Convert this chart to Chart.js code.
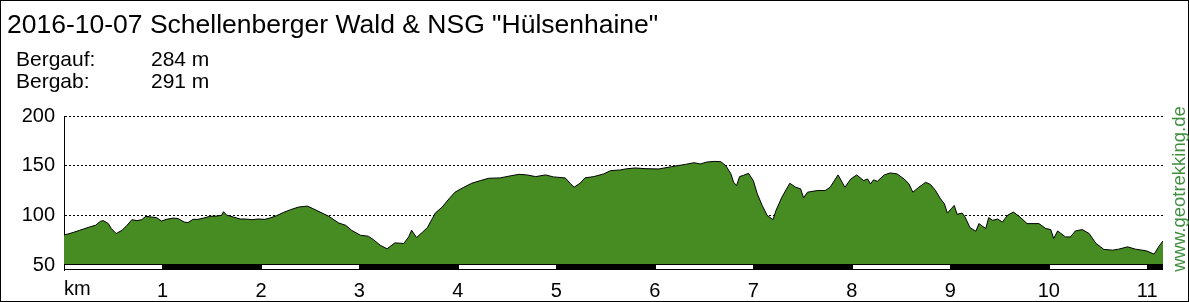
<!DOCTYPE html>
<html><head><meta charset="utf-8">
<style>html,body{margin:0;padding:0;background:#fff;overflow:hidden}canvas{display:block}</style>
<script src="https://cdn.jsdelivr.net/npm/chart.js@4.4.1/dist/chart.umd.min.js"></script>
</head><body>
<canvas id="c" width="1189" height="302"></canvas>
<script>
const titleText = '2016-10-07 Schellenberger Wald & NSG "Hülsenhaine"';
const statLabels = ['Bergauf:', 'Bergab:'];
const statValues = ['284 m', '291 m'];
const watermark = 'www.geotrekking.de';
const yTicks = [50, 100, 150, 200];
const kmTicks = [0, 1, 2, 3, 4, 5, 6, 7, 8, 9, 10, 11];
const kmUnit = 'km';

const distanceKm = [
  0.00, 0.04, 0.10, 0.16, 0.26, 0.32, 0.37, 0.40, 0.45, 0.48, 0.53, 0.59, 0.64, 0.69, 0.74, 0.79, 0.83, 0.89, 0.94, 0.99,
  1.04, 1.11, 1.16, 1.22, 1.26, 1.31, 1.36, 1.42, 1.48, 1.55, 1.60, 1.62, 1.65, 1.72, 1.79, 1.84, 1.91, 1.97,
  2.04, 2.09, 2.16, 2.23, 2.30, 2.38, 2.47, 2.53, 2.60, 2.69, 2.79, 2.86, 2.92,
  3.01, 3.09, 3.14, 3.21, 3.28, 3.36, 3.45, 3.50, 3.53, 3.58, 3.64, 3.69, 3.74, 3.77, 3.84, 3.91, 3.97,
  4.06, 4.14, 4.23, 4.31, 4.43, 4.53, 4.62, 4.70, 4.79, 4.89, 4.97,
  5.09, 5.14, 5.18, 5.24, 5.29, 5.38, 5.48, 5.55, 5.65, 5.70, 5.80, 5.90,
  6.04, 6.17, 6.31, 6.40, 6.46, 6.53, 6.60, 6.67, 6.72, 6.77, 6.80, 6.83, 6.86, 6.90, 6.95,
  7.00, 7.04, 7.09, 7.14, 7.20, 7.23, 7.29, 7.37, 7.43, 7.48, 7.51, 7.55, 7.65, 7.73, 7.78, 7.86, 7.93, 7.99,
  8.05, 8.12, 8.16, 8.19, 8.22, 8.26, 8.33, 8.39, 8.46, 8.53, 8.58, 8.62, 8.68, 8.75, 8.80, 8.85, 8.90, 8.94, 8.97,
  9.01, 9.04, 9.07, 9.12, 9.15, 9.20, 9.26, 9.29, 9.36, 9.39, 9.43, 9.48, 9.53, 9.58, 9.64, 9.70, 9.78, 9.90, 9.97,
  10.02, 10.05, 10.09, 10.17, 10.22, 10.27, 10.34, 10.41, 10.48, 10.56, 10.65, 10.71, 10.80, 10.88, 10.99,
  11.07, 11.12, 11.16
];
const elevation = [
  80.3, 81.2, 83, 85, 88.3, 90, 94, 94.7, 91.7, 86.7, 81.7, 85, 90, 95.7, 94.7, 95.7, 99, 98.3, 97.7, 94.3,
  96, 97.3, 96.7, 93.3, 92.7, 96, 96, 97.3, 99, 99.3, 100, 103.7, 100.3, 98.3, 96.3, 96.3, 95.7, 96.3,
  96, 97.3, 99.7, 103, 105.7, 108.3, 109.3, 106.7, 103.3, 99, 92.3, 90, 85,
  80, 79, 75.7, 70, 66.3, 72.3, 71.7, 78.3, 85, 77.7, 83, 87.7, 96.7, 102.3, 108.3, 116.7, 123.3,
  128.3, 132.3, 135, 137.3, 137.7, 139.7, 141.3, 140.7, 139, 140.7, 138.7,
  137.7, 132.3, 128.3, 132.3, 137.7, 139, 141.7, 145, 145.7, 146.7, 147.7, 147,
  146.7, 149, 151.3, 153, 151.7, 153.7, 154.3, 154, 150, 142.3, 133.3, 130, 139, 140.3, 142.3,
  135, 121.7, 110, 100, 95.7, 105, 118.3, 132.3, 128.3, 126.7, 117.7, 123.3, 125, 125, 128.3, 140.7, 128.3, 136.7,
  140.7, 135, 136.7, 131.7, 135.7, 134.3, 140.7, 142.7, 141.7, 136.7, 131.7, 123.3, 128.3, 133.3, 131, 125, 116.7, 111.7, 102.3,
  106.7, 110, 101, 102.3, 98.3, 87.7, 84, 91.7, 86.7, 97.7, 95, 96.3, 93.3, 100, 103.3, 99, 91.7, 91.7, 86.7,
  85.7, 76.7, 84.3, 78.3, 78.3, 84.3, 85.7, 81.7, 71.7, 65.7, 65, 66, 68.3, 66, 64.3,
  61, 69, 74.3
];

const FONT = '"Liberation Sans", Arial, sans-serif';
Chart.defaults.font.family = FONT;

const decor = {
  id: 'decor',
  beforeDraw(chart) {
    const c = chart.ctx;
    c.save();
    c.fillStyle = '#fff';
    c.fillRect(0, 0, chart.width, chart.height);
    c.restore();
  },
  afterDatasetsDraw(chart) {
    const c = chart.ctx;
    const xs = chart.scales.x, ys = chart.scales.y;
    const top = Math.round(ys.getPixelForValue(50)) - 1;
    const bottom = chart.chartArea.bottom;
    const xEnd = xs.getPixelForValue(xs.max);
    const xStart = xs.getPixelForValue(0);
    c.save();
    c.fillStyle = '#000';
    c.fillRect(xStart, top, xEnd - xStart, bottom - top);
    c.fillStyle = '#fff';
    for (let k = 0; k < xs.max; k += 2) {
      const a = Math.round(xs.getPixelForValue(k)) + 1;
      const b = Math.round(xs.getPixelForValue(Math.min(k + 1, xs.max)));
      c.fillRect(a, top + 1, b - a, bottom - top - 2);
    }
    c.restore();
  },
  afterDraw(chart) {
    const c = chart.ctx;
    const xs = chart.scales.x;
    c.save();
    c.fillStyle = '#000';
    c.strokeStyle = '#000';
    c.lineWidth = 1;
    c.strokeRect(0.5, 0.5, chart.width - 1, chart.height - 1);
    c.textBaseline = 'alphabetic';
    c.textAlign = 'left';
    c.font = '26.5px ' + FONT;
    c.fillText(titleText, 7, 33);
    c.font = '21px ' + FONT;
    statLabels.forEach((l, i) => {
      c.fillText(l, 16, 66 + i * 21.6);
      c.fillText(statValues[i], 151, 66 + i * 21.6);
    });
    c.font = '20px ' + FONT;
    c.fillText(kmUnit, xs.getPixelForValue(0), 295);
    c.translate(1185, 189);
    c.rotate(-Math.PI / 2);
    c.textAlign = 'center';
    c.font = '18.5px ' + FONT;
    c.fillStyle = '#3f8f3f';
    c.fillText(watermark, 0, 0);
    c.restore();
  }
};

new Chart(document.getElementById('c').getContext('2d'), {
  type: 'line',
  data: {
    datasets: [{
      data: distanceKm.map((x, i) => ({ x: x, y: elevation[i] })),
      fill: 'start',
      backgroundColor: '#468c23',
      borderColor: '#000',
      borderWidth: 1,
      pointRadius: 0,
      tension: 0
    }]
  },
  options: {
    responsive: false,
    animation: false,
    devicePixelRatio: 1,
    layout: { padding: { top: 116, left: 0, right: 26, bottom: 0 } },
    plugins: { legend: { display: false }, tooltip: { enabled: false } },
    scales: {
      x: {
        type: 'linear', min: 0, max: 11.16,
        afterBuildTicks: s => { s.ticks = kmTicks.map(v => ({ value: v })); },
        afterFit: s => { s.height = 32; },
        grid: { display: false, drawTicks: false },
        border: { display: false },
        ticks: {
          callback: v => (v === 0 ? '' : String(v)),
          font: { size: 20 }, color: '#000', padding: 9,
          maxRotation: 0, autoSkip: false
        }
      },
      y: {
        min: 45, max: 200,
        afterBuildTicks: s => { s.ticks = yTicks.map(v => ({ value: v })); },
        afterFit: s => { s.width = 64; },
        grid: {
          color: ctx => (ctx.tick && ctx.tick.value === 50 ? 'rgba(0,0,0,0)' : '#000'),
          drawTicks: false, lineWidth: 1
        },
        border: { display: true, color: '#000', width: 1, dash: [2, 2] },
        ticks: { font: { size: 20 }, color: '#000', padding: 9 }
      }
    }
  },
  plugins: [decor]
});
</script>
</body></html>
